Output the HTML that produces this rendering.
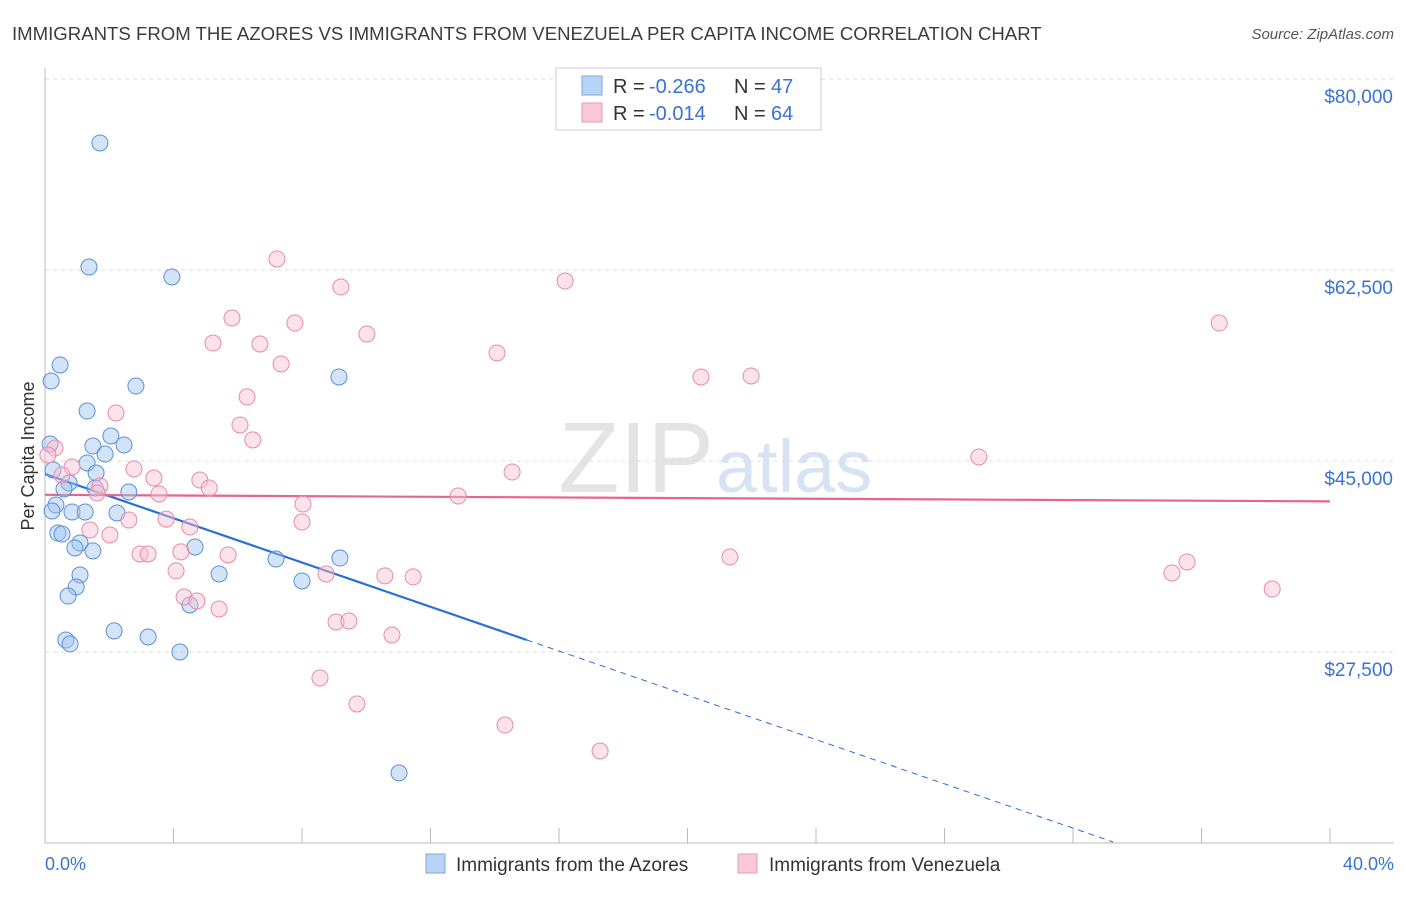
<!DOCTYPE html>
<html><head><meta charset="utf-8"><style>
body{margin:0;background:#fff;font-family:"Liberation Sans",sans-serif;}
svg text{font-family:"Liberation Sans",sans-serif;}
</style></head><body>
<svg id="chart" width="1406" height="892">
<text x="12" y="40" font-size="18.6" fill="#3c3c3c">IMMIGRANTS FROM THE AZORES VS IMMIGRANTS FROM VENEZUELA PER CAPITA INCOME CORRELATION CHART</text>
<text x="1394" y="39" font-size="15" fill="#555" text-anchor="end" font-style="italic">Source: ZipAtlas.com</text>
<text x="714" y="492" font-size="100" fill="#e4e4e4" text-anchor="end" font-family="Liberation Serif">ZIP</text>
<text x="716" y="492" font-size="74" fill="#d6e3f3">atlas</text>
<g id="grid"></g><g id="axes"></g><g id="trend"></g><g id="pts"></g>
<text transform="translate(34,456) rotate(-90)" font-size="18" fill="#333" text-anchor="middle">Per Capita Income</text>
<text x="45" y="870" font-size="18" fill="#3a72d0">0.0%</text>
<text x="1394" y="870" font-size="18" fill="#3a72d0" text-anchor="end">40.0%</text>
<g>
<rect x="556" y="68" width="265" height="62" fill="#fff" stroke="#ccc"/>
<rect x="582" y="76" width="20" height="19" fill="#b9d3f5" stroke="#7ea6e0"/>
<rect x="582" y="103" width="20" height="19" fill="#f9c9d7" stroke="#eb9ab2"/>
<text x="613" y="93" font-size="20" fill="#333">R =</text>
<text x="649" y="93" font-size="20" fill="#3a72d0">-0.266</text>
<text x="734" y="93" font-size="20" fill="#333">N =</text>
<text x="771" y="93" font-size="20" fill="#3a72d0">47</text>
<text x="613" y="120" font-size="20" fill="#333">R =</text>
<text x="649" y="120" font-size="20" fill="#3a72d0">-0.014</text>
<text x="734" y="120" font-size="20" fill="#333">N =</text>
<text x="771" y="120" font-size="20" fill="#3a72d0">64</text>
</g>
<g>
<rect x="426" y="854" width="19" height="19" fill="#b9d3f5" stroke="#7ea6e0"/>
<text x="456" y="871" font-size="19" fill="#333">Immigrants from the Azores</text>
<rect x="738" y="854" width="19" height="19" fill="#f9c9d7" stroke="#eb9ab2"/>
<text x="769" y="871" font-size="19" fill="#333">Immigrants from Venezuela</text>
</g>
</svg>
<script>
const yTicks=[80000,62500,45000,27500];
const yTickLabels=["$80,000","$62,500","$45,000","$27,500"];
const azoresX=[1.71,1.37,3.95,0.47,0.19,2.83,9.15,1.31,2.05,1.49,2.46,0.16,1.87,0.25,1.31,1.59,0.75,0.59,1.56,2.61,0.34,0.22,0.84,1.25,2.24,0.40,0.53,1.09,0.93,1.49,4.67,7.19,9.18,1.09,5.42,8.0,0.97,0.72,4.51,2.15,3.21,0.65,0.78,4.2,11.02];
const azoresY=[74140,62775,61860,53800,52330,51870,52700,49580,47290,46370,46470,46560,45640,44180,44820,43900,42990,42440,42530,42160,40970,40420,40330,40330,40240,38400,38310,37490,37030,36760,37120,36020,36110,34560,34650,34010,33460,32630,31810,29430,28880,28600,28240,27500,16420];
const venX=[7.22,9.21,16.19,5.82,7.78,10.02,5.23,6.69,14.07,7.35,20.42,21.98,36.55,6.29,2.21,6.07,6.47,0.31,29.07,14.54,2.77,3.39,4.82,0.84,0.53,1.71,5.11,3.55,1.62,12.86,8.03,2.61,3.77,4.51,8.0,1.40,2.02,2.96,3.21,4.23,5.70,4.08,8.75,10.58,11.46,21.32,35.08,35.55,38.2,4.33,4.73,5.42,9.06,9.46,10.80,8.56,9.71,14.32,17.28,0.09];
const venY=[63510,60940,61490,58100,57640,56640,55810,55720,54900,53890,52700,52790,57640,50870,49400,48300,46930,46190,45370,43990,44270,43440,43260,44450,43720,42710,42530,41980,42070,41790,41060,39590,39680,38950,39410,38680,38220,36480,36480,36670,36390,34930,34650,34470,34380,36200,34740,35750,33270,32540,32170,31440,30250,30340,29060,25120,22740,20810,18430,45550];
const azoresTrend=[0,43810,15.0,28600,33.25];
const venTrend=[41900,41300];
const NS="http://www.w3.org/2000/svg";
const X=p=>45+p/40*1285;
const Y=v=>79+(80000-v)*191/17500;
function mk(parent,tag,a){const e=document.createElementNS(NS,tag);for(const k in a)e.setAttribute(k,a[k]);document.getElementById(parent).appendChild(e);return e;}
yTicks.forEach((t,i)=>{
 const l=mk('grid','line',{x1:45,x2:1394,y1:Y(t),y2:Y(t),stroke:'#ddd','stroke-dasharray':'4,4'});
 
 
 const tx=mk('grid','text',{x:1393,y:Y(t)+24,'font-size':19,fill:'#3a72d0','text-anchor':'end'});
 tx.textContent=yTickLabels[i];
 
 
});
const ax=mk('axes','line',{x1:45,x2:1394,y1:843,y2:843,stroke:'#bbb'});


const ay=mk('axes','line',{x1:45,x2:45,y1:68,y2:843,stroke:'#bbb'});


for(let i=1;i<=10;i++){
 const t=mk('axes','line',{x1:X(i*4),x2:X(i*4),y1:828,y2:843,stroke:'#bbb'});
 
 
}
const slope=(azoresTrend[3]-azoresTrend[1])/(azoresTrend[2]-azoresTrend[0]);
const yAt=p=>azoresTrend[1]+slope*p;
const b1=mk('trend','line',{x1:X(0),y1:Y(yAt(0)),x2:X(azoresTrend[2]),y2:Y(yAt(azoresTrend[2])),stroke:'#2a6fd6','stroke-width':2.2});


const b2=mk('trend','line',{x1:X(azoresTrend[2]),y1:Y(yAt(azoresTrend[2])),x2:X(azoresTrend[4]),y2:Y(yAt(azoresTrend[4])),stroke:'#2a6fd6','stroke-width':1,'stroke-dasharray':'6,5'});


const p1=mk('trend','line',{x1:X(0),y1:Y(venTrend[0]),x2:X(40),y2:Y(venTrend[1]),stroke:'#e8648c','stroke-width':2.2});


azoresX.forEach((x,i)=>{
 const c=mk('pts','circle',{cx:X(x),cy:Y(azoresY[i]),r:8,fill:'rgba(160,195,240,0.45)',stroke:'#5b8fd8','stroke-width':1});
 
 
});
venX.forEach((x,i)=>{
 const c=mk('pts','circle',{cx:X(x),cy:Y(venY[i]),r:8,fill:'rgba(248,190,208,0.45)',stroke:'#e88aa8','stroke-width':1});
 
 
});
</script>
</body></html>
